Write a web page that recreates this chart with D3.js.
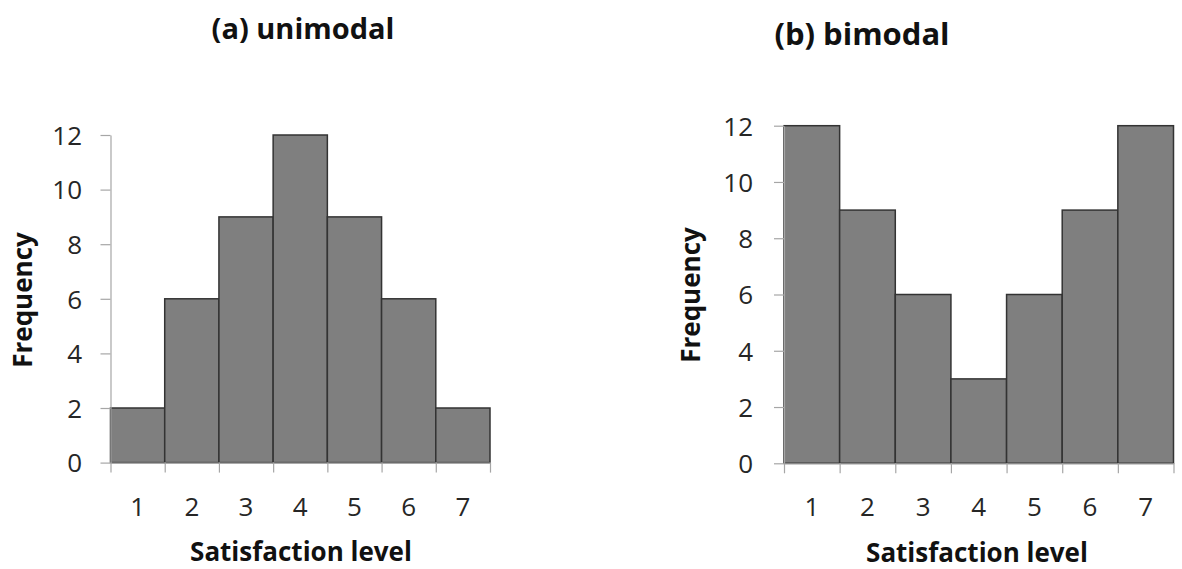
<!DOCTYPE html>
<html>
<head>
<meta charset="utf-8">
<script src="https://cdn.jsdelivr.net/npm/d3@7"></script>
<style>
  html, body { margin: 0; padding: 0; background: #fff; }
  svg { display: block; font-family: "Open Sans", sans-serif; }
</style>
</head>
<body>
<svg id="chart" width="1182" height="569"></svg>
<script>
// Satisfaction levels (histogram bins) and frequencies for the two distributions
const levels = ["1", "2", "3", "4", "5", "6", "7"];
const unimodalFreq = [2, 6, 9, 12, 9, 6, 2];
const bimodalFreq = [12, 9, 6, 3, 6, 9, 12];
const yTicks = [0, 2, 4, 6, 8, 10, 12];
const titles = ["(a) unimodal", "(b) bimodal"];
const xTitle = "Satisfaction level";
const yTitle = "Frequency";

const svg = d3.select("#chart");

// Panel layouts: plot box and label positions for each histogram
const panels = [
  {
    data: unimodalFreq, title: titles[0],
    x0: 110.5, x1: 490, y0: 462.6, y1: 135,
    titleX: 303, titleY: 39, titleSize: 29,
    yLabX: 32, yLabY: 300, xLabX: 301, xLabY: 561,
    tickLabX: 82
  },
  {
    data: bimodalFreq, title: titles[1],
    x0: 784, x1: 1173.5, y0: 463.3, y1: 125.7,
    titleX: 862, titleY: 45, titleSize: 31,
    yLabX: 700, yLabY: 295, xLabX: 977, xLabY: 562,
    tickLabX: 753
  }
];

panels.forEach(p => {
  const g = svg.append("g");

  const x = d3.scaleBand().domain(levels).range([p.x0, p.x1]).padding(0);
  const edges = d3.scaleLinear().domain([0.5, 7.5]).range([p.x0, p.x1]);
  const y = d3.scaleLinear().domain([0, 12]).range([p.y0, p.y1]);

  // Bars
  g.selectAll("rect.bar")
    .data(p.data)
    .join("rect")
    .attr("class", "bar")
    .attr("x", (d, i) => x(levels[i]))
    .attr("y", d => y(d))
    .attr("width", x.bandwidth())
    .attr("height", d => y(0) - y(d))
    .attr("fill", "#7f7f7f")
    .attr("stroke", "#333")
    .attr("stroke-width", 1.5);

  // Y axis
  const yAxis = g.append("g")
    .attr("transform", `translate(${p.x0},0)`)
    .call(d3.axisLeft(y).tickValues(yTicks).tickSize(10).tickSizeOuter(0).tickPadding(0));
  yAxis.select(".domain").attr("stroke", "#a6a6a6").attr("stroke-width", 1.2);
  yAxis.selectAll(".tick line").attr("stroke", "#a6a6a6").attr("stroke-width", 1.2);
  yAxis.selectAll(".tick text")
    .attr("x", p.tickLabX - p.x0)
    .attr("dy", "0.36em")
    .attr("fill", "#262626")
    .style("font-size", "26px")
    .style("font-family", "'Open Sans', sans-serif");

  // X axis: ticks at bin boundaries
  const xAxis = g.append("g")
    .attr("transform", `translate(0,${p.y0})`)
    .call(d3.axisBottom(edges).tickValues(d3.range(0.5, 7.6, 1)).tickSize(10).tickSizeOuter(0).tickFormat(""));
  xAxis.select(".domain").attr("stroke", "#a6a6a6").attr("stroke-width", 1.2);
  xAxis.selectAll(".tick line").attr("stroke", "#a6a6a6").attr("stroke-width", 1.2);

  // X labels centred in each bin
  const xLabels = g.append("g")
    .attr("transform", `translate(0,${p.y0})`)
    .call(d3.axisBottom(x).tickSize(0).tickPadding(0));
  xLabels.select(".domain").remove();
  xLabels.selectAll(".tick text")
    .attr("y", 53)
    .attr("dy", 0)
    .attr("fill", "#262626")
    .style("font-size", "26px")
    .style("font-family", "'Open Sans', sans-serif");

  // Titles
  g.append("text")
    .attr("x", p.titleX).attr("y", p.titleY)
    .attr("text-anchor", "middle")
    .attr("font-weight", "bold")
    .attr("font-size", p.titleSize)
    .attr("fill", "#111")
    .text(p.title);

  g.append("text")
    .attr("x", p.xLabX).attr("y", p.xLabY)
    .attr("text-anchor", "middle")
    .attr("font-weight", "bold")
    .attr("font-size", 26)
    .attr("fill", "#111")
    .text(xTitle);

  g.append("text")
    .attr("transform", `translate(${p.yLabX},${p.yLabY}) rotate(-90)`)
    .attr("text-anchor", "middle")
    .attr("font-weight", "bold")
    .attr("font-size", 26)
    .attr("fill", "#111")
    .text(yTitle);
});
</script>
</body>
</html>
